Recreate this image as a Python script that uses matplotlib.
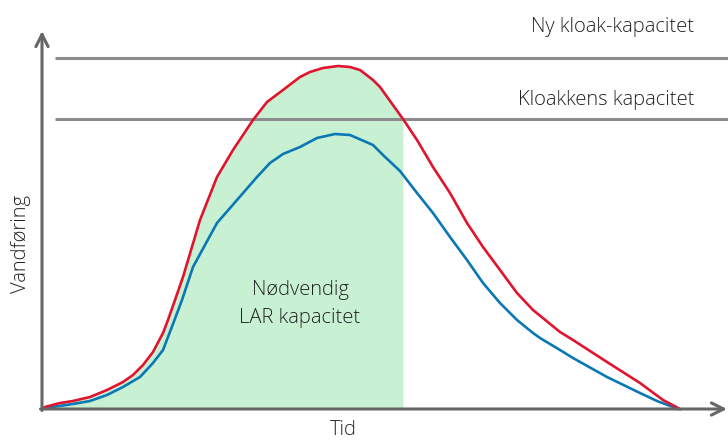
import matplotlib.pyplot as plt
import numpy as np

plt.rcParams['font.family'] = ['Open Sans', 'DejaVu Sans']

# arbitrary units (time, discharge)
red_t = [0, 3, 18, 31, 48, 65, 81, 91, 101, 111, 121, 126, 133, 141, 158,
         175, 191, 211, 225, 241, 258, 268, 281, 296, 308, 318, 331, 338,
         361, 375, 391, 408, 425, 441, 458, 475, 491, 518, 531, 565, 598,
         621, 638]
red_q = [0, 2, 6, 8, 12, 19, 27, 34, 44, 57, 76, 89, 109, 132, 189,
         232, 259, 289, 307, 319, 332, 337, 341, 343, 342, 339, 329, 322,
         290, 269, 242, 216, 186, 162, 139, 116, 99, 77, 69, 47, 26,
         9, 0]

blue_t = [0, 3, 31, 48, 65, 81, 98, 111, 121, 131, 140, 151, 175, 195,
          215, 228, 241, 258, 275, 293, 308, 331, 341, 358, 375, 391, 408,
          425, 441, 458, 475, 491, 498, 518, 531, 565, 598, 615, 631, 636]
blue_q = [0, 1, 5, 8, 14, 22, 32, 46, 59, 85, 109, 142, 186, 209,
          232, 246, 255, 262, 271, 275, 274, 264, 254, 238, 216, 196, 172,
          149, 126, 106, 89, 76, 71, 59, 51, 32, 16, 8, 2, 0]

new_capacity = 351
old_capacity = 290
lar_end = 361

fig = plt.figure(figsize=(7.28, 4.4), dpi=100)
ax = fig.add_axes([0, 0, 1, 1])
ax.set_xlim(-42, 686)
ax.set_ylim(-31, 409)
ax.axis('off')

red_t = np.array(red_t)
red_q = np.array(red_q)
m = red_t <= lar_end
ax.fill_between(red_t[m], 0, red_q[m], color='#c8f1d3', lw=0, zorder=1)

ax.hlines([new_capacity, old_capacity], 13, 686, color='#8c8c8c', lw=2.2, zorder=2)

ax.plot(blue_t, blue_q, color='#0a78b4', lw=1.9, zorder=3,
        solid_joinstyle='round')
ax.plot(red_t, red_q, color='#e0142e', lw=1.9, zorder=4,
        solid_joinstyle='round')

arrow = dict(arrowstyle='->', color='#666666', lw=2.2, mutation_scale=22,
             shrinkA=0, shrinkB=0)
ax.annotate('', xy=(0, 378), xytext=(0, -1.5), arrowprops=arrow, zorder=5)
ax.annotate('', xy=(685, 0), xytext=(-1.5, 0), arrowprops=arrow, zorder=5)

txt = dict(color='#222222', fontsize=14.5, fontweight='light')
ax.text(652, 377, 'Ny kloak-kapacitet', ha='right', va='baseline', **txt)
ax.text(652, 304, 'Kloakkens kapacitet', ha='right', va='baseline', **txt)
ax.text(258, 114, 'Nødvendig', ha='center', va='baseline', **txt)
ax.text(258, 86, 'LAR kapacitet', ha='center', va='baseline', **txt)
ax.text(-21, 165, 'Vandføring', ha='center', va='center', rotation=90, **txt)
ax.text(301, -26, 'Tid', ha='center', va='baseline', **txt)

fig.savefig('out.png', dpi=100)
